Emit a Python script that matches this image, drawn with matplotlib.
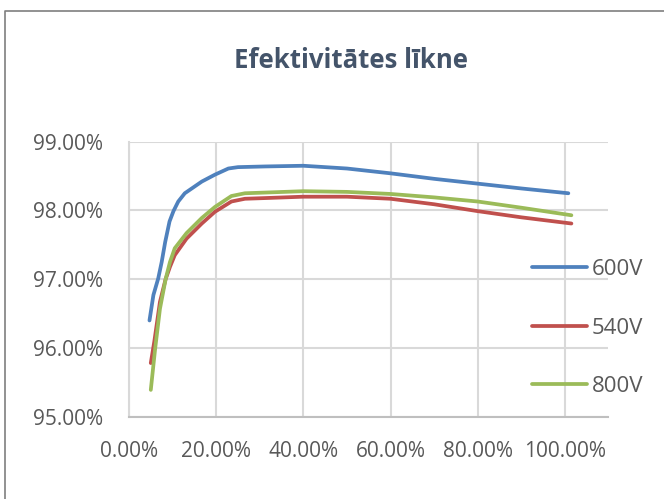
import matplotlib
matplotlib.use("Agg")
import matplotlib.pyplot as plt
from matplotlib.lines import Line2D
from matplotlib.ticker import FuncFormatter

# load (%) and efficiency (%)
load_600 = [4.7, 5.6, 6.7, 7.5, 8.3, 9.3, 10.2, 11.3, 12.8, 16.7, 19.7, 22.8, 25.0, 31.2, 40.0, 50.0, 60.0, 70.0, 80.0, 90.0, 100.8]
eff_600 = [96.40, 96.77, 97.01, 97.25, 97.54, 97.84, 97.99, 98.13, 98.25, 98.42, 98.52, 98.61, 98.63, 98.64, 98.65, 98.61, 98.54, 98.46, 98.39, 98.32, 98.25]

load_540 = [5.0, 5.8, 7.1, 8.4, 9.4, 10.5, 13.2, 16.7, 19.7, 23.5, 26.6, 31.2, 40.0, 50.0, 60.0, 70.0, 80.0, 90.0, 101.5]
eff_540 = [95.78, 96.09, 96.67, 97.00, 97.18, 97.35, 97.59, 97.81, 97.98, 98.13, 98.17, 98.18, 98.20, 98.20, 98.17, 98.09, 97.99, 97.90, 97.81]

load_800 = [5.0, 6.0, 7.1, 8.4, 9.4, 10.5, 13.2, 16.7, 19.7, 23.5, 26.6, 31.2, 40.0, 50.0, 60.0, 70.0, 80.0, 90.0, 101.5]
eff_800 = [95.39, 95.99, 96.57, 97.00, 97.25, 97.45, 97.67, 97.89, 98.05, 98.21, 98.25, 98.26, 98.28, 98.27, 98.24, 98.19, 98.13, 98.04, 97.93]

labels = ["600V", "540V", "800V"]
colors = ["#4F81BD", "#C0504D", "#9BBB59"]

x_ticks = [0, 20, 40, 60, 80, 100]
y_ticks = [95, 96, 97, 98, 99]

plt.rcParams['font.family'] = ['Open Sans', 'DejaVu Sans']
text_color = "#595959"

fig = plt.figure(figsize=(6.64, 4.99), dpi=100)
ax = fig.add_axes([129 / 664, 1 - 416.7 / 499, (608 - 129) / 664, (416.7 - 141.7) / 499])

series = [(load_600, eff_600), (load_540, eff_540), (load_800, eff_800)]
for (x, y), lab, c in zip(series, labels, colors):
    ax.plot(x, y, color=c, lw=2.7, label=lab, solid_capstyle='round',
            solid_joinstyle='round', zorder=3)

ax.set_xlim(0, 109.9)
ax.set_ylim(95, 99)
ax.set_xticks(x_ticks)
ax.set_yticks(y_ticks)
ax.xaxis.set_major_formatter(FuncFormatter(lambda v, p: f"{v:.2f}%"))
ax.yaxis.set_major_formatter(FuncFormatter(lambda v, p: f"{v:.2f}%"))
ax.tick_params(length=0, labelsize=15, colors=text_color)
ax.tick_params(axis='x', pad=17.5)
ax.tick_params(axis='y', pad=18.5)
ax.grid(True, color="#D9D9D9", lw=1.5, zorder=0)
ax.set_axisbelow(True)
for s in ['top', 'right']:
    ax.spines[s].set_visible(False)
ax.spines['left'].set_color("#D9D9D9")
ax.spines['left'].set_linewidth(1.5)
ax.spines['bottom'].set_color("#BFBFBF")
ax.spines['bottom'].set_linewidth(1.5)

ax.legend(loc='center left', bbox_to_anchor=(531.7 / 664, 1 - 328 / 499),
          bbox_transform=fig.transFigure, frameon=False, fontsize=16,
          handlelength=2.48, handletextpad=0.22, labelspacing=1.69,
          borderpad=0, borderaxespad=0, labelcolor=text_color)

fig.text(351 / 664, 1 - 68.3 / 499, "Efektivitātes līkne", ha='center', va='baseline',
         fontsize=18.5, fontweight='bold', color="#44546A")

# outer chart frame (only top and left edges visible in the crop)
fig.add_artist(Line2D([5 / 664, 5 / 664, 1.0], [0, 1 - 11 / 499, 1 - 11 / 499],
                      transform=fig.transFigure, color="#7F7F7F", lw=1.2))

fig.savefig("out.png", dpi=100)
